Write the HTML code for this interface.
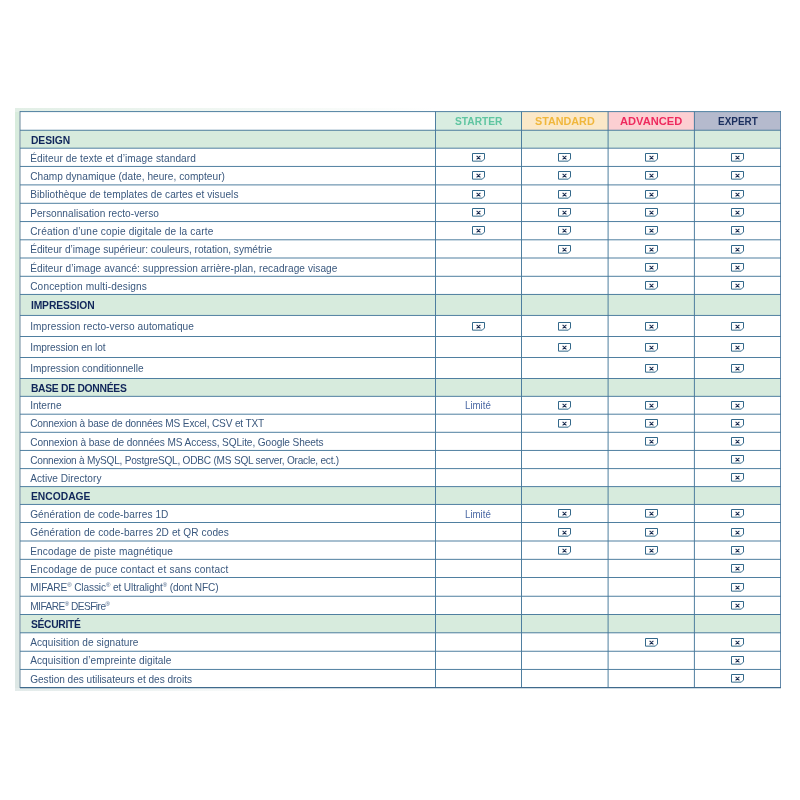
<!DOCTYPE html><html><head><meta charset="utf-8"><title>Comparatif</title><style>
html,body{margin:0;padding:0;background:#fff}
body{will-change:transform;width:800px;height:800px;position:relative;overflow:hidden;font-family:"Liberation Sans",sans-serif}
.b{position:absolute}
.t{position:absolute;white-space:nowrap;line-height:11px;height:11px;transform-origin:0 50%}
.r{font-size:10.1px;color:#3a587e;left:30.2px}
.s{font-size:10.3px;font-weight:bold;color:#10265a;left:30.9px}
.h{font-size:11.0px;font-weight:bold;line-height:12px;height:12px}
.l{font-size:10.1px;color:#4a68a4}
sup{font-size:6px;vertical-align:baseline;position:relative;top:-3.8px;line-height:0}
svg{position:absolute;left:0;top:0}

</style></head><body>
<div class="b" style="left:15px;top:108px;width:6px;height:582.5px;background:linear-gradient(#d8ecdd,#dde7e5)"></div>
<div class="b" style="left:15px;top:108px;width:420px;height:4px;background:linear-gradient(90deg,#e2efe6,#fff)"></div>
<div class="b" style="left:15px;top:688px;width:300px;height:2.5px;background:linear-gradient(90deg,#e3ebea,#fff)"></div>
<div class="b" style="left:20.0px;top:111.6px;width:760.5px;height:575.9px;background:#fff"></div>
<div class="b" style="left:435.5px;top:111.6px;width:86.0px;height:18.65px;background:#d9ede1"></div>
<div class="b" style="left:521.5px;top:111.6px;width:86.6px;height:18.65px;background:#fbe8c8"></div>
<div class="b" style="left:608.1px;top:111.6px;width:86.3px;height:18.65px;background:#fccfd2"></div>
<div class="b" style="left:694.4px;top:111.6px;width:86.1px;height:18.65px;background:#b5bacd"></div>
<div class="b" style="left:20.0px;top:130.25px;width:760.5px;height:17.95px;background:#d7ebdd"></div>
<div class="b" style="left:20.0px;top:294.45px;width:760.5px;height:21.0px;background:#d7ebdd"></div>
<div class="b" style="left:20.0px;top:378.5px;width:760.5px;height:17.85px;background:#d7ebdd"></div>
<div class="b" style="left:20.0px;top:486.6px;width:760.5px;height:17.85px;background:#d7ebdd"></div>
<div class="b" style="left:20.0px;top:614.5px;width:760.5px;height:18.3px;background:#d7ebdd"></div>
<svg width="800" height="800" viewBox="0 0 800 800" fill="none">
<path d="M20.0 111.1V688.0" stroke="#93a8b6" stroke-width="1.4"/>
<path d="M780.5 111.1V688.0" stroke="#6489aa" stroke-width="1"/>
<path d="M20.0 111.6H781.0M20.0 130.25H781.0M20.0 148.2H781.0M20.0 166.45H781.0M20.0 184.9H781.0M20.0 203.3H781.0M20.0 221.55H781.0M20.0 239.8H781.0M20.0 258.0H781.0M20.0 276.3H781.0M20.0 294.45H781.0M20.0 315.45H781.0M20.0 336.5H781.0M20.0 357.5H781.0M20.0 378.5H781.0M20.0 396.35H781.0M20.0 414.2H781.0M20.0 432.3H781.0M20.0 450.45H781.0M20.0 468.6H781.0M20.0 486.6H781.0M20.0 504.45H781.0M20.0 522.5H781.0M20.0 541.0H781.0M20.0 559.35H781.0M20.0 577.5H781.0M20.0 596.25H781.0M20.0 614.5H781.0M20.0 632.8H781.0M20.0 651.25H781.0M20.0 669.45H781.0M20.0 687.5H781.0M435.5 111.6V687.5M521.5 111.6V687.5M608.1 111.6V687.5M694.4 111.6V687.5" stroke="#46789b" stroke-width="0.95"/>
<path d="M20.0 687.6H781.0" stroke="#3f6a8c" stroke-width="1.4"/>
<path d="M472.5 153.5h12v5.45l-2.2 2.2h-9.8zM558.5 153.5h12v5.45l-2.2 2.2h-9.8zM645.5 153.5h12v5.45l-2.2 2.2h-9.8zM731.5 153.5h12v5.45l-2.2 2.2h-9.8zM472.5 171.5h12v5.45l-2.2 2.2h-9.8zM558.5 171.5h12v5.45l-2.2 2.2h-9.8zM645.5 171.5h12v5.45l-2.2 2.2h-9.8zM731.5 171.5h12v5.45l-2.2 2.2h-9.8zM472.5 190.5h12v5.45l-2.2 2.2h-9.8zM558.5 190.5h12v5.45l-2.2 2.2h-9.8zM645.5 190.5h12v5.45l-2.2 2.2h-9.8zM731.5 190.5h12v5.45l-2.2 2.2h-9.8zM472.5 208.5h12v5.45l-2.2 2.2h-9.8zM558.5 208.5h12v5.45l-2.2 2.2h-9.8zM645.5 208.5h12v5.45l-2.2 2.2h-9.8zM731.5 208.5h12v5.45l-2.2 2.2h-9.8zM472.5 226.5h12v5.45l-2.2 2.2h-9.8zM558.5 226.5h12v5.45l-2.2 2.2h-9.8zM645.5 226.5h12v5.45l-2.2 2.2h-9.8zM731.5 226.5h12v5.45l-2.2 2.2h-9.8zM558.5 245.5h12v5.45l-2.2 2.2h-9.8zM645.5 245.5h12v5.45l-2.2 2.2h-9.8zM731.5 245.5h12v5.45l-2.2 2.2h-9.8zM645.5 263.5h12v5.45l-2.2 2.2h-9.8zM731.5 263.5h12v5.45l-2.2 2.2h-9.8zM645.5 281.5h12v5.45l-2.2 2.2h-9.8zM731.5 281.5h12v5.45l-2.2 2.2h-9.8zM472.5 322.5h12v5.45l-2.2 2.2h-9.8zM558.5 322.5h12v5.45l-2.2 2.2h-9.8zM645.5 322.5h12v5.45l-2.2 2.2h-9.8zM731.5 322.5h12v5.45l-2.2 2.2h-9.8zM558.5 343.5h12v5.45l-2.2 2.2h-9.8zM645.5 343.5h12v5.45l-2.2 2.2h-9.8zM731.5 343.5h12v5.45l-2.2 2.2h-9.8zM645.5 364.5h12v5.45l-2.2 2.2h-9.8zM731.5 364.5h12v5.45l-2.2 2.2h-9.8zM558.5 401.5h12v5.45l-2.2 2.2h-9.8zM645.5 401.5h12v5.45l-2.2 2.2h-9.8zM731.5 401.5h12v5.45l-2.2 2.2h-9.8zM558.5 419.5h12v5.45l-2.2 2.2h-9.8zM645.5 419.5h12v5.45l-2.2 2.2h-9.8zM731.5 419.5h12v5.45l-2.2 2.2h-9.8zM645.5 437.5h12v5.45l-2.2 2.2h-9.8zM731.5 437.5h12v5.45l-2.2 2.2h-9.8zM731.5 455.5h12v5.45l-2.2 2.2h-9.8zM731.5 473.5h12v5.45l-2.2 2.2h-9.8zM558.5 509.5h12v5.45l-2.2 2.2h-9.8zM645.5 509.5h12v5.45l-2.2 2.2h-9.8zM731.5 509.5h12v5.45l-2.2 2.2h-9.8zM558.5 528.5h12v5.45l-2.2 2.2h-9.8zM645.5 528.5h12v5.45l-2.2 2.2h-9.8zM731.5 528.5h12v5.45l-2.2 2.2h-9.8zM558.5 546.5h12v5.45l-2.2 2.2h-9.8zM645.5 546.5h12v5.45l-2.2 2.2h-9.8zM731.5 546.5h12v5.45l-2.2 2.2h-9.8zM731.5 564.5h12v5.45l-2.2 2.2h-9.8zM731.5 583.5h12v5.45l-2.2 2.2h-9.8zM731.5 601.5h12v5.45l-2.2 2.2h-9.8zM645.5 638.5h12v5.45l-2.2 2.2h-9.8zM731.5 638.5h12v5.45l-2.2 2.2h-9.8zM731.5 656.5h12v5.45l-2.2 2.2h-9.8zM731.5 674.5h12v5.45l-2.2 2.2h-9.8z" fill="#fff" stroke="#33688a" stroke-width="1" stroke-linejoin="miter"/>
<path d="M476.6 155.85l3.8 3.5m0-3.5l-3.8 3.5M562.6 155.85l3.8 3.5m0-3.5l-3.8 3.5M649.6 155.85l3.8 3.5m0-3.5l-3.8 3.5M735.6 155.85l3.8 3.5m0-3.5l-3.8 3.5M476.6 173.85l3.8 3.5m0-3.5l-3.8 3.5M562.6 173.85l3.8 3.5m0-3.5l-3.8 3.5M649.6 173.85l3.8 3.5m0-3.5l-3.8 3.5M735.6 173.85l3.8 3.5m0-3.5l-3.8 3.5M476.6 192.85l3.8 3.5m0-3.5l-3.8 3.5M562.6 192.85l3.8 3.5m0-3.5l-3.8 3.5M649.6 192.85l3.8 3.5m0-3.5l-3.8 3.5M735.6 192.85l3.8 3.5m0-3.5l-3.8 3.5M476.6 210.85l3.8 3.5m0-3.5l-3.8 3.5M562.6 210.85l3.8 3.5m0-3.5l-3.8 3.5M649.6 210.85l3.8 3.5m0-3.5l-3.8 3.5M735.6 210.85l3.8 3.5m0-3.5l-3.8 3.5M476.6 228.85l3.8 3.5m0-3.5l-3.8 3.5M562.6 228.85l3.8 3.5m0-3.5l-3.8 3.5M649.6 228.85l3.8 3.5m0-3.5l-3.8 3.5M735.6 228.85l3.8 3.5m0-3.5l-3.8 3.5M562.6 247.85l3.8 3.5m0-3.5l-3.8 3.5M649.6 247.85l3.8 3.5m0-3.5l-3.8 3.5M735.6 247.85l3.8 3.5m0-3.5l-3.8 3.5M649.6 265.85l3.8 3.5m0-3.5l-3.8 3.5M735.6 265.85l3.8 3.5m0-3.5l-3.8 3.5M649.6 283.85l3.8 3.5m0-3.5l-3.8 3.5M735.6 283.85l3.8 3.5m0-3.5l-3.8 3.5M476.6 324.85l3.8 3.5m0-3.5l-3.8 3.5M562.6 324.85l3.8 3.5m0-3.5l-3.8 3.5M649.6 324.85l3.8 3.5m0-3.5l-3.8 3.5M735.6 324.85l3.8 3.5m0-3.5l-3.8 3.5M562.6 345.85l3.8 3.5m0-3.5l-3.8 3.5M649.6 345.85l3.8 3.5m0-3.5l-3.8 3.5M735.6 345.85l3.8 3.5m0-3.5l-3.8 3.5M649.6 366.85l3.8 3.5m0-3.5l-3.8 3.5M735.6 366.85l3.8 3.5m0-3.5l-3.8 3.5M562.6 403.85l3.8 3.5m0-3.5l-3.8 3.5M649.6 403.85l3.8 3.5m0-3.5l-3.8 3.5M735.6 403.85l3.8 3.5m0-3.5l-3.8 3.5M562.6 421.85l3.8 3.5m0-3.5l-3.8 3.5M649.6 421.85l3.8 3.5m0-3.5l-3.8 3.5M735.6 421.85l3.8 3.5m0-3.5l-3.8 3.5M649.6 439.85l3.8 3.5m0-3.5l-3.8 3.5M735.6 439.85l3.8 3.5m0-3.5l-3.8 3.5M735.6 457.85l3.8 3.5m0-3.5l-3.8 3.5M735.6 475.85l3.8 3.5m0-3.5l-3.8 3.5M562.6 511.85l3.8 3.5m0-3.5l-3.8 3.5M649.6 511.85l3.8 3.5m0-3.5l-3.8 3.5M735.6 511.85l3.8 3.5m0-3.5l-3.8 3.5M562.6 530.85l3.8 3.5m0-3.5l-3.8 3.5M649.6 530.85l3.8 3.5m0-3.5l-3.8 3.5M735.6 530.85l3.8 3.5m0-3.5l-3.8 3.5M562.6 548.85l3.8 3.5m0-3.5l-3.8 3.5M649.6 548.85l3.8 3.5m0-3.5l-3.8 3.5M735.6 548.85l3.8 3.5m0-3.5l-3.8 3.5M735.6 566.85l3.8 3.5m0-3.5l-3.8 3.5M735.6 585.85l3.8 3.5m0-3.5l-3.8 3.5M735.6 603.85l3.8 3.5m0-3.5l-3.8 3.5M649.6 640.85l3.8 3.5m0-3.5l-3.8 3.5M735.6 640.85l3.8 3.5m0-3.5l-3.8 3.5M735.6 658.85l3.8 3.5m0-3.5l-3.8 3.5M735.6 676.85l3.8 3.5m0-3.5l-3.8 3.5" stroke="#1a2c50" stroke-width="1.1"/>
</svg>
<div class="t h" style="left:455.0px;top:115px;color:#5fc5a1;transform:scaleX(0.9288)">STARTER</div>
<div class="t h" style="left:534.8px;top:115px;color:#f0b73c;transform:scaleX(0.9802)">STANDARD</div>
<div class="t h" style="left:620.0px;top:115px;color:#ee2a5e;transform:scaleX(1.0109)">ADVANCED</div>
<div class="t h" style="left:718.0px;top:115px;color:#1b2f5e;transform:scaleX(0.9042)">EXPERT</div>
<div class="t s" style="top:135px;letter-spacing:-0.031px">DESIGN</div>
<div class="t r" style="top:153px;letter-spacing:0.101px">Éditeur de texte et d’image standard</div>
<div class="t r" style="top:171px;letter-spacing:0.046px">Champ dynamique (date, heure, compteur)</div>
<div class="t r" style="top:189px;letter-spacing:0.064px">Bibliothèque de templates de cartes et visuels</div>
<div class="t r" style="top:208px;letter-spacing:0.031px">Personnalisation recto-verso</div>
<div class="t r" style="top:226px;letter-spacing:0.146px">Création d’une copie digitale de la carte</div>
<div class="t r" style="top:244px;letter-spacing:-0.0px">Éditeur d’image supérieur: couleurs, rotation, symétrie</div>
<div class="t r" style="top:263px;letter-spacing:0.065px">Éditeur d’image avancé: suppression arrière-plan, recadrage visage</div>
<div class="t r" style="top:281px;letter-spacing:0.144px">Conception multi-designs</div>
<div class="t s" style="top:300px;letter-spacing:-0.106px">IMPRESSION</div>
<div class="t r" style="top:321px;letter-spacing:0.082px">Impression recto-verso automatique</div>
<div class="t r" style="top:342px;letter-spacing:-0.093px">Impression en lot</div>
<div class="t r" style="top:363px;letter-spacing:-0.024px">Impression conditionnelle</div>
<div class="t s" style="top:383px;letter-spacing:-0.264px">BASE DE DONNÉES</div>
<div class="t r" style="top:400px;letter-spacing:-0.02px">Interne</div>
<div class="t l" style="left:464.9px;top:400px;transform:scaleX(0.9578)">Limité</div>
<div class="t r" style="top:418px;letter-spacing:-0.163px">Connexion à base de données MS Excel, CSV et TXT</div>
<div class="t r" style="top:437px;letter-spacing:-0.087px">Connexion à base de données MS Access, SQLite, Google Sheets</div>
<div class="t r" style="top:455px;letter-spacing:-0.223px">Connexion à MySQL, PostgreSQL, ODBC (MS SQL server, Oracle, ect.)</div>
<div class="t r" style="top:473px;letter-spacing:0.039px">Active Directory</div>
<div class="t s" style="top:491px;letter-spacing:0.013px">ENCODAGE</div>
<div class="t r" style="top:509px;letter-spacing:0.069px">Génération de code-barres 1D</div>
<div class="t l" style="left:464.9px;top:509px;transform:scaleX(0.9578)">Limité</div>
<div class="t r" style="top:527px;letter-spacing:0.088px">Génération de code-barres 2D et QR codes</div>
<div class="t r" style="top:546px;letter-spacing:0.129px">Encodage de piste magnétique</div>
<div class="t r" style="top:564px;letter-spacing:0.202px">Encodage de puce contact et sans contact</div>
<div class="t r" style="top:582px;letter-spacing:-0.107px">MIFARE<sup>®</sup> Classic<sup>®</sup> et Ultralight<sup>®</sup> (dont NFC)</div>
<div class="t r" style="top:601px;letter-spacing:-0.505px">MIFARE<sup>®</sup> DESFire<sup>®</sup></div>
<div class="t s" style="top:619px;letter-spacing:-0.31px">SÉCURITÉ</div>
<div class="t r" style="top:637px;letter-spacing:0.046px">Acquisition de signature</div>
<div class="t r" style="top:655px;letter-spacing:0.067px">Acquisition d’empreinte digitale</div>
<div class="t r" style="top:674px;letter-spacing:-0.024px">Gestion des utilisateurs et des droits</div>
</body></html>
